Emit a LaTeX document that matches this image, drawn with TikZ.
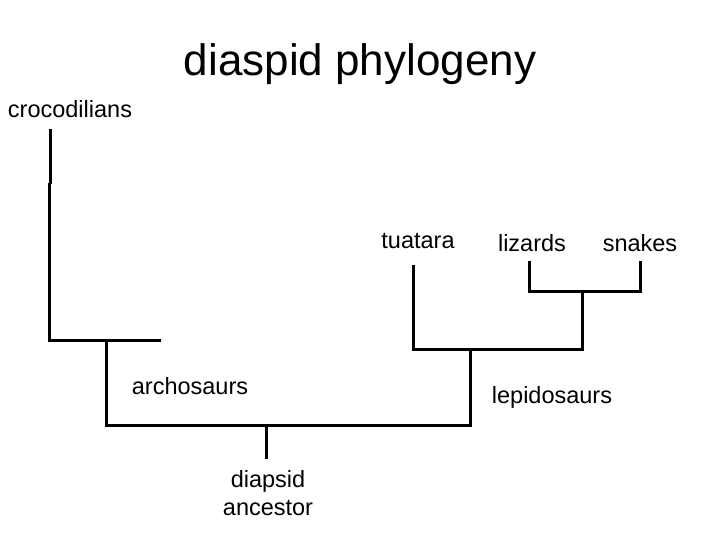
\documentclass[tikz,border=0pt]{standalone}
\usepackage{fontspec}
\setmainfont{Liberation Sans}
\tikzset{
  branch/.style={line width=3bp, line cap=rect},
  lbl/.style={inner sep=0pt, font=\fontsize{23.5bp}{28bp}\selectfont, align=center},
  ttl/.style={inner sep=0pt, font=\fontsize{44bp}{50bp}\selectfont}
}
\begin{document}
\begin{tikzpicture}[x=1bp,y=-1bp]
\useasboundingbox (0,0) rectangle (720,540);
% labels
\node[ttl] (title) at (360,64) {diaspid phylogeny};
\node[lbl] (croc) at (70,109) {crocodilians};
\node[lbl] (tua) at (418,241) {tuatara};
\node[lbl] (liz) at (532,243) {lizards};
\node[lbl] (sna) at (640,243) {snakes};
\node[lbl] (arch) at (190,386) {archosaurs};
\node[lbl] (lepi) at (552,397) {lepidosaurs};
\node[lbl] (anc) at (268,493) {diapsid\\ancestor};
% coordinates
\coordinate (c1) at (50,131);
\coordinate (c2) at (50,183);
\coordinate (c3) at (49,185);
\coordinate (c4) at (49,340);
\coordinate (c5) at (159,340);
\coordinate (a1) at (106,340);
\coordinate (a2) at (106,425);
\coordinate (r1) at (470,425);
\coordinate (r2) at (470,349);
\coordinate (s1) at (266,425);
\coordinate (s2) at (266,457);
\coordinate (t1) at (413,266);
\coordinate (t2) at (413,349);
\coordinate (q1) at (582,349);
\coordinate (q2) at (582,291);
\coordinate (l1) at (529,263);
\coordinate (l2) at (529,291);
\coordinate (n1) at (640,263);
\coordinate (n2) at (640,291);
% branches
\draw[branch] (c1) -- (c2);
\draw[branch] (c3) -- (c4) -- (c5);
\draw[branch] (a1) -- (a2) -- (r1) -- (r2);
\draw[branch] (s1) -- (s2);
\draw[branch] (t1) -- (t2) -- (q1) -- (q2);
\draw[branch] (l1) -- (l2) -- (n2) -- (n1);
\end{tikzpicture}
\end{document}
